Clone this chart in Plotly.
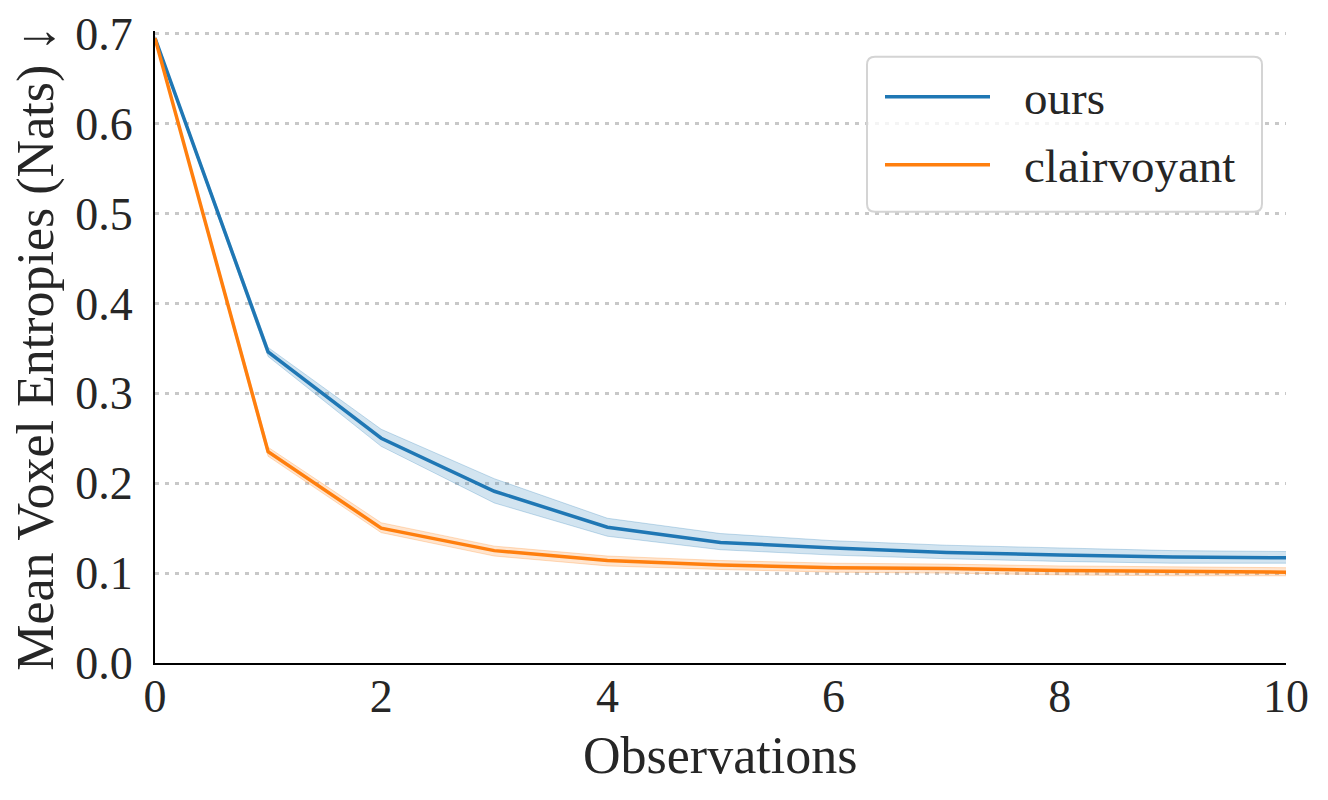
import plotly.graph_objects as go

observations = [0, 1, 2, 3, 4, 5, 6, 7, 8, 9, 10]

ours_mean = [0.695, 0.346, 0.250, 0.191, 0.151, 0.134, 0.128, 0.123, 0.120, 0.118, 0.117]
ours_low = [0.693, 0.341, 0.241, 0.178, 0.141, 0.126, 0.120, 0.116, 0.113, 0.111, 0.111]
ours_high = [0.697, 0.351, 0.260, 0.205, 0.161, 0.144, 0.136, 0.131, 0.128, 0.125, 0.124]

clair_mean = [0.695, 0.235, 0.150, 0.125, 0.114, 0.109, 0.106, 0.105, 0.103, 0.102, 0.101]
clair_low = [0.693, 0.230, 0.145, 0.119, 0.108, 0.104, 0.101, 0.100, 0.098, 0.097, 0.097]
clair_high = [0.697, 0.240, 0.156, 0.130, 0.119, 0.114, 0.111, 0.110, 0.108, 0.107, 0.106]

series_names = ["ours", "clairvoyant"]
y_ticks = [0.0, 0.1, 0.2, 0.3, 0.4, 0.5, 0.6, 0.7]
x_ticks = [0, 2, 4, 6, 8, 10]

FONT = "Liberation Serif, Times New Roman, serif"
TEXT = "#262626"

series = [
    (series_names[0], ours_mean, ours_low, ours_high, "31,119,180"),
    (series_names[1], clair_mean, clair_low, clair_high, "255,127,14"),
]

fig = go.Figure()
for name, mean, low, high, rgb in series:
    fig.add_trace(go.Scatter(x=observations, y=low, mode="lines",
                             line=dict(width=1, color=f"rgba({rgb},0.25)"),
                             showlegend=False, hoverinfo="skip"))
    fig.add_trace(go.Scatter(x=observations, y=high, mode="lines",
                             line=dict(width=1, color=f"rgba({rgb},0.25)"),
                             fill="tonexty", fillcolor=f"rgba({rgb},0.2)",
                             showlegend=False, hoverinfo="skip"))
for name, mean, low, high, rgb in series:
    fig.add_trace(go.Scatter(x=observations, y=mean, mode="lines", name=name,
                             showlegend=False,
                             line=dict(width=3.5, color=f"rgb({rgb})")))

# page body has an 8px margin; work in window pixels
OFF = 8
Y_TOP = 0.703
# window pixels: x 155..1286, y(0.7)=34, y(0)=663
PL, PR, PB = 155, 1286, 663
PT = PB - (PB - 34) * Y_TOP / 0.7
def px(xp):
    return (xp - PL) / (PR - PL)
def py(yp):
    return (PB - yp) / (PB - PT)

# manual legend (rounded box, long line samples)
bx0, bx1, by0, by1 = px(867), px(1262), py(212), py(57)
rx, ry = 8 / (PR - PL), 8 / (PB - PT)
path = (f"M {bx0+rx},{by0} L {bx1-rx},{by0} Q {bx1},{by0} {bx1},{by0+ry} "
        f"L {bx1},{by1-ry} Q {bx1},{by1} {bx1-rx},{by1} L {bx0+rx},{by1} "
        f"Q {bx0},{by1} {bx0},{by1-ry} L {bx0},{by0+ry} Q {bx0},{by0} {bx0+rx},{by0} Z")
shapes = [dict(type="path", xref="paper", yref="paper", path=path,
               fillcolor="rgba(255,255,255,0.8)", line=dict(color="#d4d4d4", width=2),
               layer="above")]
annotations = []
for (name, mean, low, high, rgb), ly in zip(series, [97, 165]):
    shapes.append(dict(type="line", xref="paper", yref="paper",
                       x0=px(885), x1=px(990), y0=py(ly), y1=py(ly),
                       line=dict(color=f"rgb({rgb})", width=3.5), layer="above"))
    annotations.append(dict(text=name, xref="paper", yref="paper", x=px(1022), y=py(ly + 1),
                            xanchor="left", yanchor="middle", showarrow=False,
                            font=dict(size=47, family=FONT, color=TEXT)))

annotations.append(dict(text="Observations", xref="paper", yref="paper",
                        x=px(720), y=py(755), xanchor="center", yanchor="middle",
                        showarrow=False, font=dict(size=52, family=FONT, color=TEXT)))
annotations.append(dict(text="Mean Voxel Entropies (Nats) ↓", xref="paper", yref="paper",
                        x=px(36), y=py(349), xanchor="center", yanchor="middle", textangle=-90,
                        showarrow=False, font=dict(size=52, family=FONT, color=TEXT)))

W, H = 1328 - OFF, 800 - OFF
fig.update_layout(
    width=W, height=H,
    margin=dict(l=PL - OFF, r=1328 - PR, t=PT - OFF, b=800 - PB, autoexpand=False),
    paper_bgcolor="white", plot_bgcolor="white",
    font=dict(family=FONT, size=46, color=TEXT),
    showlegend=False,
    shapes=shapes,
    annotations=annotations,
)
fig.update_xaxes(range=[0, 10], tickvals=x_ticks, ticktext=[str(v) for v in x_ticks],
                 showgrid=False, zeroline=False, showline=True, linecolor="black",
                 linewidth=2, ticks="", ticklabelstandoff=-8, automargin=False,
                 tickfont=dict(size=46, family=FONT, color=TEXT))
fig.update_yaxes(range=[0, Y_TOP], tickvals=y_ticks, ticktext=[f"{v:.1f}" for v in y_ticks],
                 showgrid=True, gridcolor="#c8c8c8", gridwidth=2.5, griddash="4px,6px",
                 zeroline=False, showline=True, linecolor="black", linewidth=2,
                 ticks="", ticklabelstandoff=11, automargin=False,
                 tickfont=dict(size=46, family=FONT, color=TEXT))

fig.write_html("out.html")
